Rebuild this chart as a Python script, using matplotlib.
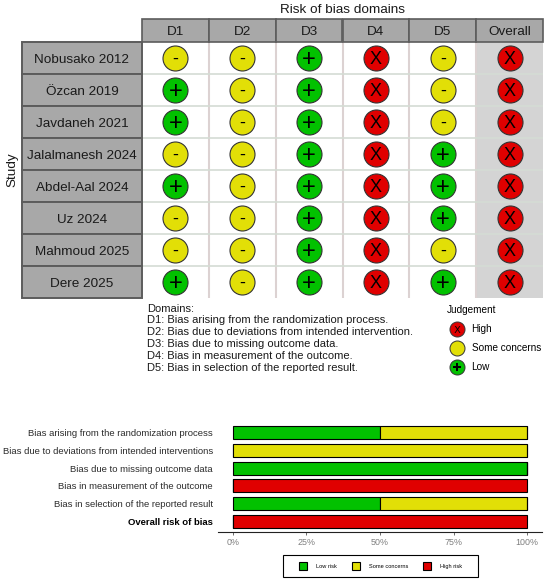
import numpy as np
import matplotlib
matplotlib.use("Agg")
import matplotlib.pyplot as plt
from matplotlib.patches import Rectangle, Patch
from matplotlib.lines import Line2D
from matplotlib.legend_handler import HandlerTuple
from matplotlib.transforms import offset_copy

plt.rcParams['font.family'] = ['Liberation Sans', 'DejaVu Sans']

# ---------------- data ----------------
studies = ["Nobusako 2012", "Özcan 2019", "Javdaneh 2021", "Jalalmanesh 2024",
           "Abdel-Aal 2024", "Uz 2024", "Mahmoud 2025", "Dere 2025"]
domains = ["D1", "D2", "D3", "D4", "D5", "Overall"]
# L = low, S = some concerns, H = high
D1 = ["S", "L", "L", "S", "L", "S", "S", "L"]
D2 = ["S", "S", "S", "S", "S", "S", "S", "S"]
D3 = ["L", "L", "L", "L", "L", "L", "L", "L"]
D4 = ["H", "H", "H", "H", "H", "H", "H", "H"]
D5 = ["S", "S", "S", "L", "L", "L", "S", "L"]
Overall = ["H", "H", "H", "H", "H", "H", "H", "H"]
judgements = [D1, D2, D3, D4, D5, Overall]

domain_text = ["Domains:",
               "D1: Bias arising from the randomization process.",
               "D2: Bias due to deviations from intended intervention.",
               "D3: Bias due to missing outcome data.",
               "D4: Bias in measurement of the outcome.",
               "D5: Bias in selection of the reported result."]
summary_labels = ["Bias arising from the randomization process",
                  "Bias due to deviations from intended interventions",
                  "Bias due to missing outcome data",
                  "Bias in measurement of the outcome",
                  "Bias in selection of the reported result",
                  "Overall risk of bias"]
levels = ["L", "S", "H"]
level_names = {"L": "Low risk", "S": "Some concerns", "H": "High risk"}
judge_names = {"H": "High", "S": "Some concerns", "L": "Low"}
pct_ticks = [0, 25, 50, 75, 100]
pct_labels = ["0%", "25%", "50%", "75%", "100%"]

colors = {"L": "#02C100", "S": "#E2DF07", "H": "#E00000"}
symbols = {"L": "+", "S": "-", "H": "X"}
sym_size = {"L": 17, "S": 13, "H": 13}
sym_mid = {"L": 0.35, "S": 0.32, "H": 0.358}

W, H = 550, 583
fig = plt.figure(figsize=(W / 100, H / 100), dpi=100)

def fx(px):
    return px / W

def fy(py):
    return 1 - py / H

def ctext(ax, x, y, s, fs, frac=0.358, **kw):
    tr = offset_copy(ax.transData, fig=fig, x=0, y=-frac * fs, units='points')
    return ax.text(x, y, s, transform=tr, ha='center', va='baseline',
                   fontsize=fs, clip_on=False, **kw)

# ---------------- traffic light plot ----------------
ax1 = fig.add_axes([fx(142), fy(298), fx(543) - fx(142), fy(42) - fy(298)])
ncol, nrow = len(domains), len(studies)
ax1.set_xlim(-0.5, ncol - 0.5)
ax1.set_ylim(nrow - 0.5, -0.5)
ax1.axis('off')

ax1.axvspan(ncol - 1.5, ncol - 0.5, color='#D4D4D4', zorder=0, lw=0)
for xv in np.arange(0.5, ncol - 1.0, 1.0):
    ax1.axvline(xv, color='#DCD2D2', lw=1.5, zorder=1)
for yv in np.arange(0.5, nrow - 0.5, 1.0):
    ax1.axhline(yv, color='#D4DCD4', lw=1.2, zorder=1)

hdr_h = 0.719
lab_w = 1.796
cell_fc = '#A8A8A8'
cell_ec = '#5C5C5C'
for j, d in enumerate(domains):
    ax1.add_patch(Rectangle((j - 0.5, -0.5 - hdr_h), 1, hdr_h, fc=cell_fc,
                            ec=cell_ec, lw=1.2, clip_on=False, zorder=2))
    ctext(ax1, j, -0.5 - hdr_h / 2, d, 9.7, color='#1a1a1a', zorder=3)
for i, s in enumerate(studies):
    ax1.add_patch(Rectangle((-0.5 - lab_w, i - 0.5), lab_w, 1, fc=cell_fc,
                            ec=cell_ec, lw=1.4, clip_on=False, zorder=2))
    ctext(ax1, -0.5 - lab_w / 2, i, s, 9.7, color='#1a1a1a', zorder=3)

ctext(ax1, (ncol - 1) / 2, -0.5 - hdr_h - 0.33, "Risk of bias domains", 9.7,
      color='#1a1a1a')
ax1.text(-0.5 - lab_w - 0.14, (nrow - 1) / 2, "Study", ha='center', va='center',
         rotation=90, fontsize=9.7, color='#1a1a1a', clip_on=False)

for j, col in enumerate(judgements):
    for i, v in enumerate(col):
        ax1.scatter([j], [i], s=324, c=colors[v], edgecolors='#333333',
                    linewidths=0.8, zorder=4, clip_on=False)
        ctext(ax1, j, i, symbols[v], sym_size[v], frac=sym_mid[v],
              color='black', zorder=5)

# domain descriptions
for k, t in enumerate(domain_text):
    fig.text(fx(147.3), fy(308.5 + 11.9 * k), t, ha='left', va='center',
             fontsize=8, color='#1a1a1a')

# judgement legend
sym_markers = {"L": r"$+$", "S": r"$-$", "H": r"$\mathrm{X}$"}
sym_ms = {"L": 6, "S": 3.5, "H": 5}
handles, labels = [], []
for k in ["H", "S", "L"]:
    c = Line2D([], [], ls='none', marker='o', ms=10.8, mfc=colors[k],
               mec='#333333', mew=0.7)
    s = Line2D([], [], ls='none', marker=sym_markers[k], ms=sym_ms[k],
               color='black', mew=0)
    handles.append((c, s))
    labels.append(judge_names[k])
fig.legend(handles, labels, handler_map={tuple: HandlerTuple(ndivide=1)},
           loc='upper left', bbox_to_anchor=(fx(443.0), fy(300.8)),
           bbox_transform=fig.transFigure, frameon=False, numpoints=1,
           fontsize=7.2, title="Judgement", title_fontsize=7.2,
           alignment='left', handlelength=2.0, handletextpad=0.45,
           labelspacing=0.92, borderpad=0.4, borderaxespad=0)

# ---------------- summary bar plot ----------------
ax2 = fig.add_axes([fx(218), fy(532.3), fx(542) - fx(218), fy(421.6) - fy(532.3)])
nd = len(summary_labels)
ypos = np.arange(nd)
left = np.zeros(nd)
for lv in levels:
    pct = np.array([100.0 * col.count(lv) / len(col) for col in judgements])
    ax2.barh(ypos, pct, left=left, height=0.73, color=colors[lv],
             edgecolor='black', linewidth=0.8, label=level_names[lv])
    left += pct
ax2.set_xlim(-5, 105)
for sp in ['top', 'right', 'left']:
    ax2.spines[sp].set_visible(False)
ax2.spines['bottom'].set_color('#222222')
ax2.spines['bottom'].set_linewidth(0.8)
ax2.set_yticks(ypos)
ax2.set_yticklabels(summary_labels, fontsize=6.8, color='#2b2b2b')
ax2.get_yticklabels()[-1].set_fontweight('bold')
ax2.get_yticklabels()[-1].set_color('black')
ax2.tick_params(axis='y', length=0, pad=3.6)
ax2.set_xticks(pct_ticks)
ax2.set_xticklabels(pct_labels, fontsize=6.4, color='#7F7F7F')
ax2.tick_params(axis='x', length=2.2, width=0.6, color='#555555', pad=2)
ax2.set_ylim(nd - 0.4, -0.6)

# legend of summary plot (frame drawn as a box around it)
leg_handles = [Patch(facecolor=colors[lv], edgecolor='black', linewidth=0.8,
                     label=level_names[lv]) for lv in levels]
fig.legend(handles=leg_handles, loc='center', ncol=3,
           bbox_to_anchor=(fx(380.5), fy(566)), bbox_transform=fig.transFigure,
           fontsize=4.1, frameon=False, handlelength=1.4, handleheight=1.6,
           handletextpad=1.58, columnspacing=2.6, borderpad=0, borderaxespad=0)
fig.patches.append(Rectangle((fx(283), fy(577)), fx(478) - fx(283), fy(555) - fy(577),
                             transform=fig.transFigure, fill=False,
                             edgecolor='black', linewidth=0.8))

fig.savefig("out.png", dpi=100)
